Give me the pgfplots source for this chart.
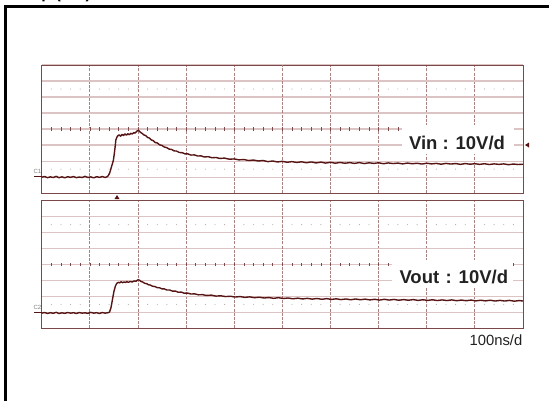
\documentclass[border=0pt]{standalone}
\usepackage{pgfplots}
\pgfplotsset{compat=1.18}
\usepackage{fontspec}
\setmainfont{Liberation Sans}

\definecolor{scopeframe}{HTML}{7A4848}
\definecolor{vgrid}{HTML}{A98181}
\definecolor{hgrid}{HTML}{DCC4C4}
\definecolor{tracec}{HTML}{561414}
\definecolor{dotc}{HTML}{B8A8A8}
\definecolor{txt}{HTML}{222222}

% one scope screen: 10 div x 8 div, x in ns (100 ns/div), y in div
\pgfplotsset{
  screen/.style={
    scale only axis, width=481.3pt,
    xmin=0, xmax=1000, ymin=-4, ymax=4,
    xtick={0,100,...,1000}, ytick={-4,...,4},
    xticklabels={}, yticklabels={},
    major tick length=0pt,
    grid=major,
    x grid style={vgrid, line width=0.8pt, dash pattern=on 3pt off 1.2pt},
    y grid style={hgrid, line width=1.3pt},
    extra x ticks={500}, extra y ticks={0},
    extra x tick labels={}, extra y tick labels={},
    extra tick style={grid style={scopeframe, line width=0.9pt, solid}},
    axis line style={scopeframe, line width=0.9pt},
    axis background/.style={fill=white},
  },
  tracestyle/.style={tracec, line width=1.4pt, line join=round, no marks},
}

\newcommand{\screendeco}{%
  \pgfplotsinvokeforeach{20,40,...,980}{%
    \draw[scopeframe, line width=0.6pt] (axis cs:##1,-0.11) -- (axis cs:##1,0.11);
    \fill[dotc] (axis cs:##1,2.5) circle[radius=0.55pt];
    \fill[dotc] (axis cs:##1,-2.5) circle[radius=0.55pt];
  }%
}

\begin{document}
\begin{tikzpicture}
\useasboundingbox (0,0) rectangle (549pt,-400pt);
\fill[white] (0,0) rectangle (549pt,-400pt);

% title (cut by the top edge) and outer frame
\node[anchor=base west, inner sep=0pt, font=\fontsize{16}{18}\selectfont\bfseries]
  at (-5pt,1.5pt) {Startup (Vin)};
\draw[black, line width=2.6pt] (5.5pt,-410pt) -- (5.5pt,-6.5pt) -- (560pt,-6.5pt);

% ---- Vin screen ----
\begin{axis}[screen, at={(41.7pt,-193.2pt)}, anchor=south west, height=128.2pt]
  \screendeco
  \addplot[tracestyle] coordinates {
    (0,-3.00) (6,-2.96) (12,-3.03) (18,-2.98) (24,-3.02) (30,-2.95) (36,-3.03)
    (42,-2.98) (48,-3.04) (54,-2.97) (60,-3.01) (66,-2.96) (72,-3.03) (78,-2.99)
    (84,-3.02) (90,-2.95) (96,-3.02) (102,-2.98) (108,-3.04) (114,-2.97) (120,-3.01)
    (126,-2.96) (132,-3.02) (136,-2.97) (138,-2.92) (141,-2.75) (143,-2.56)
    (146,-2.25) (149,-1.94) (151,-1.50) (153,-1.00) (154,-0.69) (156,-0.52)
    (158,-0.42) (161,-0.36) (164,-0.44) (167,-0.33) (170,-0.40) (173,-0.30)
    (176,-0.38) (179,-0.29) (182,-0.35) (185,-0.26) (188,-0.31) (191,-0.22)
    (194,-0.25) (197,-0.15) (200,-0.08) (202,-0.10) (205,-0.20) (208,-0.25)
    (212,-0.36) (216,-0.40) (220,-0.52) (224,-0.56) (228,-0.68) (232,-0.72)
    (236,-0.84) (240,-0.86) (245,-0.98) (250,-1.02) (255,-1.12) (260,-1.16)
    (265,-1.25) (270,-1.27) (275,-1.36) (280,-1.37) (286,-1.46) (292,-1.47)
    (298,-1.55) (304,-1.55) (310,-1.62) (317,-1.61) (324,-1.68) (331,-1.67)
    (338,-1.74) (346,-1.72) (354,-1.79) (362,-1.77) (370,-1.83) (380,-1.81)
    (390,-1.88) (400,-1.86) (410,-1.92) (420,-1.90) (430,-1.96) (440,-1.93)
    (450,-1.99) (460,-1.96) (470,-2.03) (480,-1.99) (490,-2.05) (500,-2.01)
    (510,-2.07) (520,-2.03) (530,-2.08) (540,-2.04) (550,-2.10) (560,-2.05)
    (570,-2.11) (580,-2.06) (590,-2.12) (600,-2.07) (610,-2.13) (620,-2.08)
    (630,-2.13) (640,-2.09) (650,-2.14) (660,-2.09) (670,-2.15) (680,-2.10)
    (690,-2.14) (700,-2.10) (710,-2.16) (720,-2.11) (730,-2.15) (740,-2.12)
    (750,-2.17) (760,-2.12) (770,-2.16) (780,-2.13) (790,-2.18) (800,-2.13)
    (810,-2.17) (820,-2.14) (830,-2.19) (840,-2.14) (850,-2.18) (860,-2.15)
    (870,-2.20) (880,-2.15) (890,-2.19) (900,-2.16) (910,-2.20) (920,-2.16)
    (930,-2.21) (940,-2.17) (950,-2.20) (960,-2.17) (970,-2.22) (980,-2.18)
    (990,-2.21) (1000,-2.19)
  };
\end{axis}

% ---- Vout screen ----
\begin{axis}[screen, at={(41.7pt,-328.3pt)}, anchor=south west, height=127.6pt]
  \screendeco
  \addplot[tracestyle] coordinates {
    (0,-3.05) (6,-3.01) (12,-3.07) (18,-3.02) (24,-3.06) (30,-3.00) (36,-3.07)
    (42,-3.03) (48,-3.06) (54,-3.01) (60,-3.05) (66,-3.02) (72,-3.07) (78,-3.01)
    (84,-3.05) (90,-3.03) (96,-3.06) (102,-3.00) (108,-3.05) (114,-3.02) (120,-3.07)
    (126,-3.01) (132,-3.05) (138,-3.02) (141,-2.98) (144,-2.70) (147,-2.20)
    (150,-1.70) (153,-1.36) (156,-1.18) (159,-1.12) (162,-1.15) (165,-1.08)
    (168,-1.14) (171,-1.09) (174,-1.13) (177,-1.07) (180,-1.12) (184,-1.06)
    (188,-1.10) (192,-1.03) (196,-1.05) (200,-0.96) (203,-0.98) (206,-1.06)
    (210,-1.10) (214,-1.18) (218,-1.20) (222,-1.27) (226,-1.29) (230,-1.36)
    (235,-1.38) (240,-1.45) (245,-1.46) (250,-1.53) (255,-1.53) (260,-1.60)
    (266,-1.60) (272,-1.67) (278,-1.67) (284,-1.74) (290,-1.73) (296,-1.80)
    (303,-1.79) (310,-1.85) (318,-1.84) (326,-1.90) (334,-1.89) (342,-1.94)
    (352,-1.92) (362,-1.98) (372,-1.96) (382,-2.01) (392,-1.99) (402,-2.04)
    (412,-2.01) (422,-2.06) (432,-2.03) (442,-2.08) (452,-2.05) (462,-2.10)
    (472,-2.07) (482,-2.12) (492,-2.08) (502,-2.13) (512,-2.10) (522,-2.15)
    (532,-2.11) (542,-2.16) (552,-2.12) (562,-2.17) (572,-2.13) (582,-2.18)
    (592,-2.14) (602,-2.19) (612,-2.15) (622,-2.20) (632,-2.16) (642,-2.21)
    (652,-2.16) (662,-2.21) (672,-2.17) (682,-2.22) (692,-2.18) (702,-2.23)
    (712,-2.18) (722,-2.23) (732,-2.19) (742,-2.24) (752,-2.20) (762,-2.24)
    (772,-2.20) (782,-2.25) (792,-2.21) (802,-2.25) (812,-2.21) (822,-2.26)
    (832,-2.22) (842,-2.26) (852,-2.22) (862,-2.27) (872,-2.23) (882,-2.27)
    (892,-2.23) (902,-2.28) (912,-2.24) (922,-2.28) (932,-2.24) (942,-2.29)
    (952,-2.25) (962,-2.29) (972,-2.25) (982,-2.30) (992,-2.26) (1000,-2.29)
  };
\end{axis}

% channel markers and trigger markers
\node[anchor=center, inner sep=0pt, text=gray, font=\fontsize{6}{6}\selectfont] at (37.5pt,-171pt) {C1};
\draw[tracec, line width=0.8pt] (34pt,-176.5pt) -- (42pt,-176.5pt);
\node[anchor=center, inner sep=0pt, text=gray, font=\fontsize{6}{6}\selectfont] at (37.5pt,-307pt) {C2};
\draw[tracec, line width=0.8pt] (34pt,-312.8pt) -- (42pt,-312.8pt);
\fill[tracec] (114.5pt,-199pt) -- (119.5pt,-199pt) -- (117pt,-195pt) -- cycle;
\fill[tracec] (525pt,-145pt) -- (529pt,-142.5pt) -- (529pt,-147.5pt) -- cycle;

% labels
\fill[white] (402pt,-125pt) rectangle (514pt,-154pt);
\node[anchor=base, inner sep=0pt, text=txt, font=\fontsize{18.5}{20}\selectfont\bfseries]
  at (457pt,-149pt) {Vin : 10V/d};
\fill[white] (392pt,-260pt) rectangle (513pt,-288pt);
\node[anchor=base, inner sep=0pt, text=txt, font=\fontsize{18.5}{20}\selectfont\bfseries]
  at (453.8pt,-283pt) {Vout\hspace{0.35em}: 10V/d};
\node[anchor=base east, inner sep=0pt, text=txt, font=\fontsize{14.8}{16}\selectfont]
  at (522.5pt,-345.3pt) {100ns/d};
\end{tikzpicture}
\end{document}
